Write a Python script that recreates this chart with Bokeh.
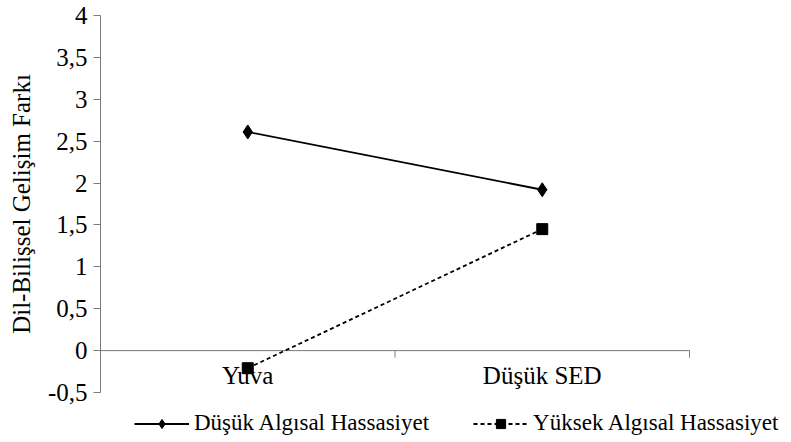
import math
from bokeh.plotting import figure
from bokeh.models import Range1d, FixedTicker, Legend, LegendItem
from bokeh.core.properties import value
from bokeh.embed import file_html
from bokeh.resources import INLINE

categories = ["Yuva", "Düşük SED"]
dusuk_algisal = [2.61, 1.92]
yuksek_algisal = [-0.21, 1.45]
series_names = ["Düşük Algısal Hassasiyet", "Yüksek Algısal Hassasiyet"]
y_ticks = [-0.5, 0, 0.5, 1, 1.5, 2, 2.5, 3, 3.5, 4]
y_tick_labels = ["-0,5", "0", "0,5", "1", "1,5", "2", "2,5", "3", "3,5", "4"]
y_title = "Dil-Bilişsel Gelişim Farkı"

FONT = "Liberation Serif"
FS = "25px"
LEG_FS = "23px"
AXIS_COLOR = "#7a7a7a"

n = len(categories)
x = [i + 0.5 for i in range(n)]          # category centres
bounds = list(range(n + 1))              # category boundaries (tick marks)

# The plotting frame runs to the right and bottom edges of the page so that the
# legend fits inside it; the axes themselves only span the original plot area.
AXIS_W, FRAME_W = 589, 691
AXIS_H, FRAME_H = 377, 427
x_hi = n * FRAME_W / AXIS_W
y_lo = y_ticks[-1] - (y_ticks[-1] - y_ticks[0]) * FRAME_H / AXIS_H

p = figure(output_backend="svg", toolbar_location=None, x_axis_location=None,
           width=791, height=442,
           x_range=Range1d(0, x_hi), y_range=Range1d(y_lo, y_ticks[-1]),
           frame_width=FRAME_W, frame_height=FRAME_H,
           min_border_left=100, min_border_right=0,
           min_border_top=15, min_border_bottom=0)
p.outline_line_color = None
p.grid.visible = False

# category axis drawn at y = 0
p.segment(x0=[bounds[0]], y0=[0], x1=[bounds[-1]], y1=[0], line_color=AXIS_COLOR, line_width=1)
p.ray(x=bounds, y=[0] * len(bounds), length=7, length_units="screen",
      angle=-math.pi / 2, line_color=AXIS_COLOR, line_width=1)
p.text(x=x, y=[0] * n, text=categories, text_font=value(FONT), text_font_size=FS,
       text_align="center", text_baseline="alphabetic", y_offset=25, text_color="black")

ya = p.yaxis[0]
ya.bounds = (y_ticks[0], y_ticks[-1])
ya.ticker = FixedTicker(ticks=y_ticks)
ya.major_label_overrides = {t: l for t, l in zip(y_ticks, y_tick_labels)}
ya.major_tick_out = 7
ya.major_tick_in = 0
ya.minor_tick_line_color = None
ya.axis_line_color = AXIS_COLOR
ya.major_tick_line_color = AXIS_COLOR
ya.major_label_standoff = 6
ya.major_label_text_font = FONT
ya.major_label_text_font_size = FS
ya.major_label_text_color = "black"
# leading no-break spaces lift the label so it is centred on the value axis
ya.axis_label = "\u00a0" * 8 + y_title
ya.axis_label_text_font = FONT
ya.axis_label_text_font_size = FS
ya.axis_label_text_font_style = "normal"
ya.axis_label_text_color = "black"
ya.axis_label_standoff = 10

l1 = p.line(x, dusuk_algisal, line_color="black", line_width=1.8)
m1 = p.scatter(x, dusuk_algisal, marker="diamond", size=14,
               fill_color="black", line_color="black")
l2 = p.line(x, yuksek_algisal, line_color="black", line_width=1.8, line_dash="4 3")
m2 = p.scatter(x, yuksek_algisal, marker="square", size=11, fill_color="black", line_color="black")

legend = Legend(items=[LegendItem(label=series_names[0], renderers=[l1, m1]),
                       LegendItem(label=series_names[1], renderers=[l2, m2])],
                orientation="horizontal", location=(34, 6),
                glyph_width=55, glyph_height=23, label_standoff=5, spacing=44,
                padding=0, margin=0, border_line_color=None, background_fill_alpha=0,
                label_text_font=FONT, label_text_font_size=LEG_FS, label_text_color="black")
p.add_layout(legend, "center")

open("out.html", "w").write(file_html(p, INLINE))
